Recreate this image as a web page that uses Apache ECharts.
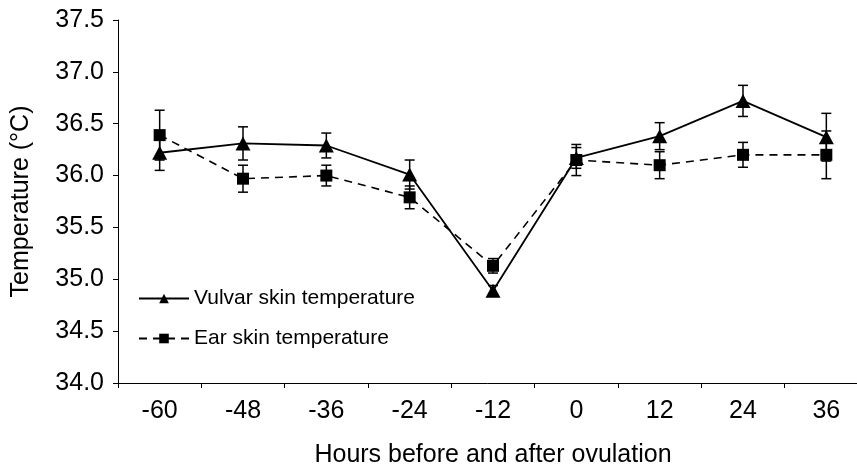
<!DOCTYPE html>
<html>
<head>
<meta charset="utf-8">
<script src="https://cdn.jsdelivr.net/npm/echarts@6/dist/echarts.min.js"></script>
<style>
  html, body { margin: 0; padding: 0; background: #fff; }
  #chart { width: 857px; height: 467px; }
</style>
</head>
<body>
<div id="chart"></div>
<script>
// hours relative to ovulation
var hours = ['-60', '-48', '-36', '-24', '-12', '0', '12', '24', '36'];
// mean skin temperature and its error
var vulvarMean = [36.22, 36.31, 36.29, 36.01, 34.89, 36.17, 36.38, 36.72, 36.37];
var vulvarErr = [0.17, 0.16, 0.12, 0.14, 0.05, 0.10, 0.13, 0.15, 0.23];
var earMean = [36.39, 35.97, 36.00, 35.79, 35.13, 36.15, 36.10, 36.20, 36.20];
var earErr = [0.24, 0.13, 0.10, 0.11, 0.07, 0.15, 0.13, 0.12, 0.23];

var font = '"Liberation Sans", Arial, sans-serif';

function errData(mean, err) {
  return mean.map(function (m, i) { return [i, m - err[i], m + err[i]]; });
}

function errBars(params, api) {
  var x = api.value(0);
  var lo = api.coord([x, api.value(1)]);
  var hi = api.coord([x, api.value(2)]);
  var w = 5;
  var style = { stroke: '#000', lineWidth: 1.5 };
  return {
    type: 'group',
    children: [
      { type: 'line', shape: { x1: hi[0], y1: hi[1], x2: lo[0], y2: lo[1] }, style: style },
      { type: 'line', shape: { x1: hi[0] - w, y1: hi[1], x2: hi[0] + w, y2: hi[1] }, style: style },
      { type: 'line', shape: { x1: lo[0] - w, y1: lo[1], x2: lo[0] + w, y2: lo[1] }, style: style }
    ]
  };
}

var chart = echarts.init(document.getElementById('chart'));

var option = {
  animation: false,
  backgroundColor: '#fff',
  textStyle: { fontFamily: font, color: '#000' },
  grid: { left: 118, right: -11, top: 20, bottom: 84, containLabel: false, outerBoundsMode: 'none' },
  legend: {
    orient: 'vertical',
    left: 133,
    top: 283,
    itemWidth: 50,
    itemHeight: 12,
    itemGap: 19,
    textStyle: { fontFamily: font, fontSize: 21, color: '#000' },
    data: ['Vulvar skin temperature', 'Ear skin temperature']
  },
  xAxis: {
    type: 'category',
    data: hours,
    boundaryGap: true,
    name: 'Hours before and after ovulation',
    nameLocation: 'middle',
    nameGap: 60,
    nameTextStyle: { fontFamily: font, fontSize: 25, color: '#000' },
    axisLine: { lineStyle: { color: '#000', width: 1 } },
    axisTick: { show: true, length: 5, lineStyle: { color: '#000' } },
    axisLabel: { fontFamily: font, fontSize: 25, color: '#000', margin: 16 },
    splitLine: { show: false }
  },
  yAxis: {
    type: 'value',
    min: 34,
    max: 37.5,
    interval: 0.5,
    name: 'Temperature (\u00B0C)',
    nameLocation: 'middle',
    nameGap: 84,
    nameTextStyle: { fontFamily: font, fontSize: 25, color: '#000' },
    axisLine: { show: true, lineStyle: { color: '#000', width: 1 } },
    axisTick: { show: true, length: 5, lineStyle: { color: '#000' } },
    axisLabel: {
      fontFamily: font, fontSize: 25, color: '#000', margin: 14,
      formatter: function (v) { return v.toFixed(1); }
    },
    splitLine: { show: false }
  },
  series: [
    {
      name: 'Ear skin temperature',
      type: 'line',
      data: earMean,
      symbol: 'rect',
      symbolSize: 12,
      itemStyle: { color: '#000' },
      lineStyle: { color: '#000', width: 1.6, type: [8, 6] },
      z: 3
    },
    {
      type: 'custom',
      data: errData(earMean, earErr),
      renderItem: errBars,
      z: 2
    },
    {
      name: 'Vulvar skin temperature',
      type: 'line',
      data: vulvarMean,
      symbol: 'triangle',
      symbolSize: [15, 14],
      itemStyle: { color: '#000' },
      lineStyle: { color: '#000', width: 1.8 },
      z: 4
    },
    {
      type: 'custom',
      data: errData(vulvarMean, vulvarErr),
      renderItem: errBars,
      z: 2
    }
  ]
};

chart.setOption(option);
</script>
</body>
</html>
